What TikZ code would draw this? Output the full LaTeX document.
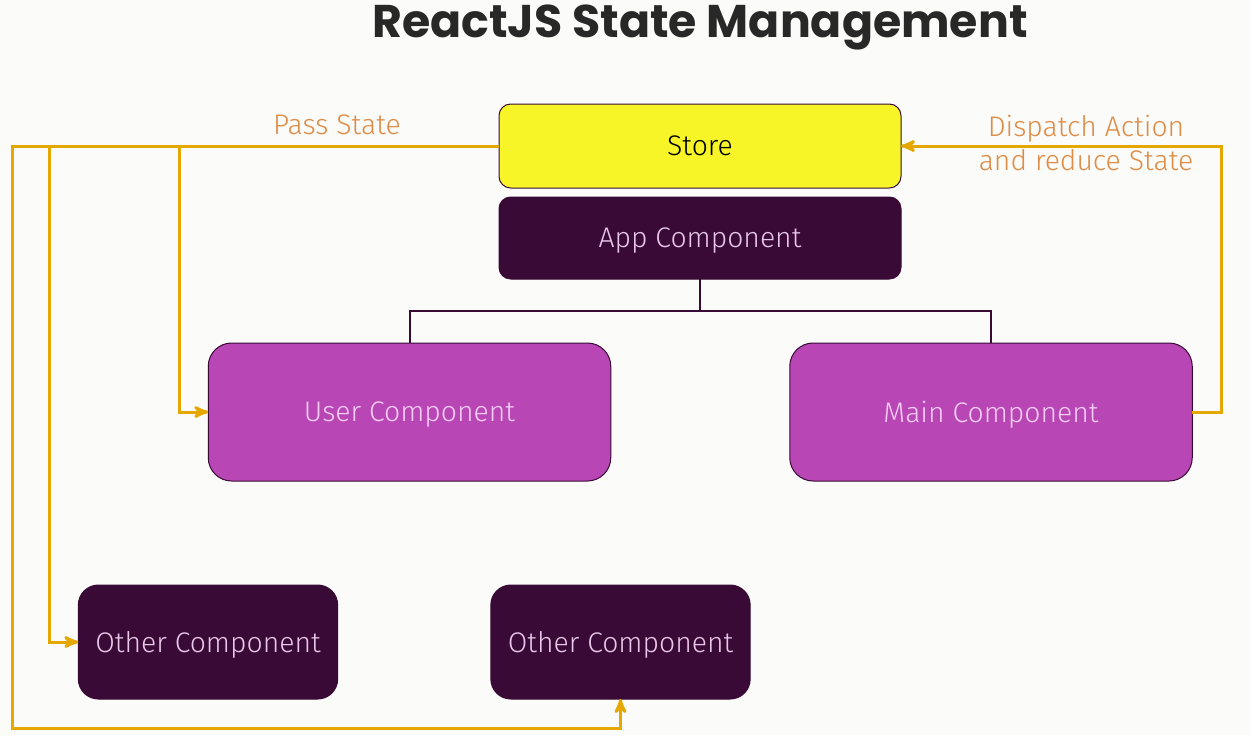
\documentclass[tikz,border=0pt]{standalone}
\usepackage{fontspec}
\setmainfont{Fira Sans Light}
\newfontfamily\titlefont{Poppins}
\usepackage{tikz}
\usetikzlibrary{arrows}
\definecolor{page_bg}{RGB}{251,251,249}
\definecolor{store_fill}{RGB}{247,245,40}
\definecolor{box_dark}{RGB}{58,10,54}
\definecolor{box_pink}{RGB}{184,71,181}
\definecolor{text_dark}{RGB}{232,200,232}
\definecolor{text_pink}{RGB}{245,205,245}
\definecolor{edge_gold}{RGB}{229,168,0}
\definecolor{label_orange}{RGB}{222,140,70}
\definecolor{title_gray}{RGB}{40,40,40}

\begin{document}
\begin{tikzpicture}[x=0.6pt,y=-0.6pt,semithick,>=stealth']
    \tikzstyle{comp}=[rectangle, inner sep=0pt, outer sep=0pt, line width=0.6pt, text depth=0pt, font=\fontsize{17}{20}\selectfont]
    \tikzstyle{store}=[style=comp, draw=box_dark, fill=store_fill, text=black, rounded corners=7pt, minimum width=241.2pt, minimum height=50.4pt]
    \tikzstyle{app}=[style=comp, draw=box_dark, fill=box_dark, text=text_dark, rounded corners=7pt, minimum width=241.2pt, minimum height=49.2pt]
    \tikzstyle{child}=[style=comp, draw=box_dark, fill=box_pink, text=text_pink, rounded corners=14pt, minimum width=241.5pt, minimum height=82.8pt]
    \tikzstyle{other}=[style=comp, draw=box_dark, fill=box_dark, text=text_dark, rounded corners=12pt, minimum width=155.6pt, minimum height=68.4pt]
    \tikzstyle{tree}=[draw=box_dark, line width=1.2pt]
    \tikzstyle{flow}=[draw=edge_gold, line width=1.8pt]
    \tikzstyle{label}=[text=label_orange, font=\fontsize{17}{20}\selectfont, align=center]

    \fill[page_bg] (0,0) rectangle (1251,735);
    \useasboundingbox (0,0) rectangle (1251,735);

    \node[text=title_gray, anchor=base, inner sep=0pt, font=\titlefont\bfseries\fontsize{27.5}{32}\selectfont] (title) at (700,37.5) {ReactJS State Management};

    \node[store] (store) at (700,146) {Store};
    \node[app] (app) at (700,238) {App Component};
    \node[child] (user) at (409.5,412) {User Component};
    \node[child] (main) at (991,412) {Main Component};
    \node[other] (otherA) at (208,642) {Other Component};
    \node[other] (otherB) at (620.5,642) {Other Component};

    % component tree
    \coordinate (split) at (700,311);
    \draw[tree] (app.south) -- (split);
    \draw[tree] (split) -| (user.north);
    \draw[tree] (split) -| (main.north);

    % state flow
    \coordinate (tapU) at (179,146);
    \coordinate (tapO) at (49,146);
    \coordinate (tapB) at (12,146);
    \coordinate (loop) at (12,728);
    \coordinate (ret) at (1221,146);
    \draw[flow,->] (store.west) -- (tapB) -- (loop) -| (otherB.south);
    \draw[flow,->] (tapU) |- (user.west);
    \draw[flow,->] (tapO) |- (otherA.west);
    \draw[flow,->] (main.east) -| (ret) -- (store.east);

    \node[label] (pass) at (337,125) {Pass State};
    \node[label] (dispatch) at (1086,143) {Dispatch Action\\and reduce State};
\end{tikzpicture}
\end{document}
